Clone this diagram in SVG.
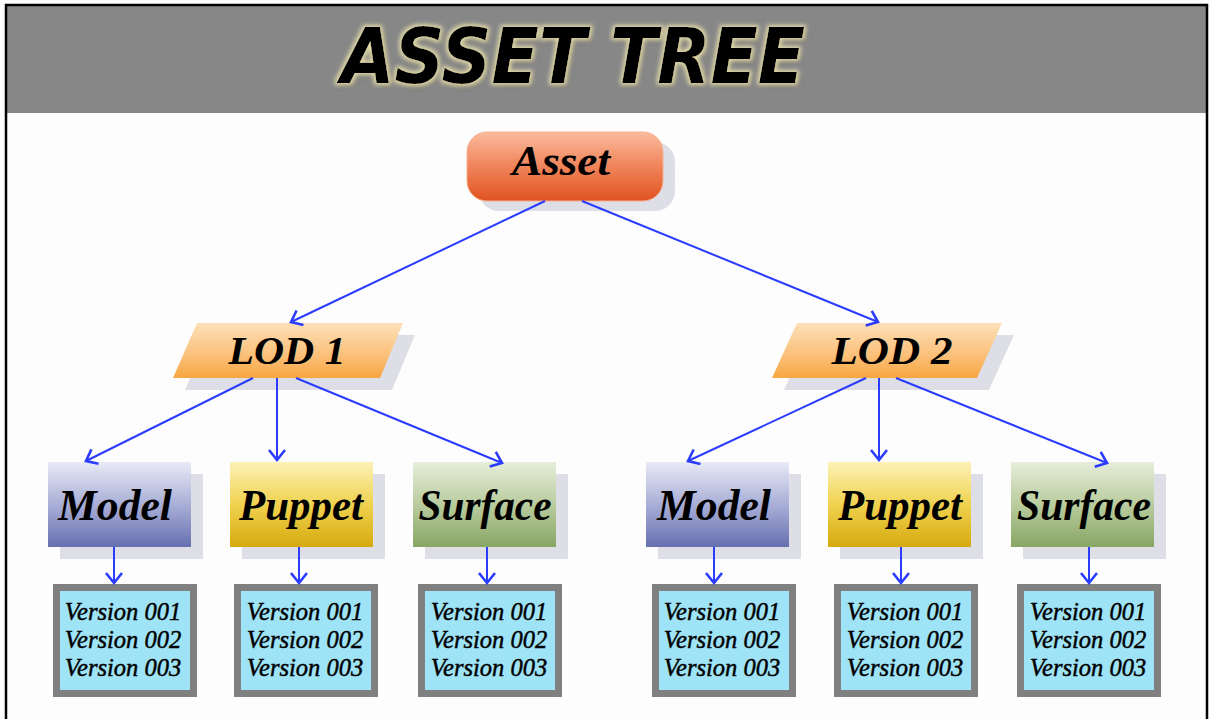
<svg xmlns="http://www.w3.org/2000/svg" width="1209" height="719" viewBox="0 0 1209 719">
<style>
.lbl{font-family:"Liberation Serif","Times New Roman",serif;font-style:italic;font-weight:bold;fill:#000;text-anchor:middle}
.ver{font-family:"Liberation Serif","Times New Roman",serif;font-style:italic;font-size:24.5px;fill:#000;stroke:#000;stroke-width:0.45;text-anchor:middle}
.shadow{fill:#dedfe6}
.vbox{fill:#9fe3f6;stroke:#808080;stroke-width:7}
.conn line{stroke:#2a3cff;stroke-width:2;fill:none;marker-end:url(#arr)}
</style>
<defs>
<marker id="arr" markerUnits="userSpaceOnUse" markerWidth="20" markerHeight="20" refX="12" refY="9" orient="auto">
<path d="M2,1 L12,9 L2,17" fill="none" stroke="#2a3cff" stroke-width="2.6"/>
</marker>
<linearGradient id="gAsset" x1="0" y1="0" x2="0" y2="1"><stop offset="0" stop-color="#fbbc9e"/><stop offset="0.5" stop-color="#f0845a"/><stop offset="1" stop-color="#df5320"/></linearGradient>
<linearGradient id="gLod" x1="0" y1="0" x2="0" y2="1"><stop offset="0" stop-color="#fde0b8"/><stop offset="0.6" stop-color="#fbbf78"/><stop offset="1" stop-color="#f7a640"/></linearGradient>
<linearGradient id="gModel" x1="0" y1="0" x2="0" y2="1"><stop offset="0" stop-color="#e8eaf5"/><stop offset="0.5" stop-color="#a9afd7"/><stop offset="1" stop-color="#6770b0"/></linearGradient>
<linearGradient id="gPuppet" x1="0" y1="0" x2="0" y2="1"><stop offset="0" stop-color="#fcf2b6"/><stop offset="0.5" stop-color="#f0d250"/><stop offset="1" stop-color="#d6aa0e"/></linearGradient>
<linearGradient id="gSurface" x1="0" y1="0" x2="0" y2="1"><stop offset="0" stop-color="#e6eedb"/><stop offset="0.5" stop-color="#b9cc9e"/><stop offset="1" stop-color="#88a664"/></linearGradient>
<filter id="glow" x="-10%" y="-40%" width="120%" height="180%">
<feMorphology in="SourceAlpha" operator="dilate" radius="1.5" result="d"/>
<feGaussianBlur in="d" stdDeviation="2" result="b"/>
<feFlood flood-color="#e0d8a8"/>
<feComposite in2="b" operator="in" result="g"/>
<feOffset in="SourceAlpha" dx="2" dy="3" result="o"/>
<feGaussianBlur in="o" stdDeviation="2.5" result="ob"/>
<feFlood flood-color="#3a3a30" flood-opacity="0.6"/>
<feComposite in2="ob" operator="in" result="sh"/>
<feMerge><feMergeNode in="sh"/><feMergeNode in="g"/><feMergeNode in="SourceGraphic"/></feMerge>
</filter>
</defs>
<rect x="0" y="0" width="1209" height="719" fill="#fdfdfd"/>
<g id="header">
<rect x="6" y="5" width="1201" height="108" fill="#878787"/>
<path d="M6,719 V5 H1207 V719" fill="none" stroke="#000" stroke-width="2.5"/>
<text x="573" y="83" font-family="DejaVu Sans Condensed, DejaVu Sans, sans-serif" font-stretch="condensed" font-weight="bold" font-style="italic" font-size="76" textLength="464" lengthAdjust="spacingAndGlyphs" text-anchor="middle" fill="#000" filter="url(#glow)">ASSET TREE</text>
</g>
<g id="asset">
<rect class="shadow" x="479" y="142" width="196" height="69" rx="20"/>
<rect x="467" y="132" width="196" height="69" rx="20" fill="url(#gAsset)" stroke="#f6b090" stroke-width="1"/>
<text class="lbl" x="561" y="175" font-size="43" textLength="98" lengthAdjust="spacingAndGlyphs">Asset</text>
</g>
<g id="lod1">
<polygon class="shadow" points="209,335 415,335 392,390 185,390"/>
<polygon points="197,323 403,323 380,378 173,378" fill="url(#gLod)"/>
<text class="lbl" x="287" y="364" font-size="39" font-weight="normal" textLength="117" lengthAdjust="spacingAndGlyphs">LOD 1</text>
</g>
<g id="lod2">
<polygon class="shadow" points="809,335 1014,335 989,390 784,390"/>
<polygon points="797,323 1002,323 977,378 772,378" fill="url(#gLod)"/>
<text class="lbl" x="892" y="364" font-size="39" font-weight="normal" textLength="121" lengthAdjust="spacingAndGlyphs">LOD 2</text>
</g>
<g id="model1">
<rect class="shadow" x="60" y="474" width="143" height="85"/>
<rect x="48" y="462" width="143" height="85" fill="url(#gModel)"/>
<text class="lbl" x="115" y="520" font-size="44" textLength="114" lengthAdjust="spacingAndGlyphs">Model</text>
</g>
<g id="puppet1">
<rect class="shadow" x="242" y="474" width="143" height="85"/>
<rect x="230" y="462" width="143" height="85" fill="url(#gPuppet)"/>
<text class="lbl" x="301" y="520" font-size="44" textLength="124" lengthAdjust="spacingAndGlyphs">Puppet</text>
</g>
<g id="surface1">
<rect class="shadow" x="425" y="474" width="143" height="85"/>
<rect x="413" y="462" width="143" height="85" fill="url(#gSurface)"/>
<text class="lbl" x="485" y="520" font-size="44" textLength="133" lengthAdjust="spacingAndGlyphs">Surface</text>
</g>
<g id="model2">
<rect class="shadow" x="658" y="474" width="143" height="85"/>
<rect x="646" y="462" width="143" height="85" fill="url(#gModel)"/>
<text class="lbl" x="714" y="520" font-size="44" textLength="114" lengthAdjust="spacingAndGlyphs">Model</text>
</g>
<g id="puppet2">
<rect class="shadow" x="840" y="474" width="143" height="85"/>
<rect x="828" y="462" width="143" height="85" fill="url(#gPuppet)"/>
<text class="lbl" x="900" y="520" font-size="44" textLength="124" lengthAdjust="spacingAndGlyphs">Puppet</text>
</g>
<g id="surface2">
<rect class="shadow" x="1023" y="474" width="143" height="85"/>
<rect x="1011" y="462" width="143" height="85" fill="url(#gSurface)"/>
<text class="lbl" x="1084" y="520" font-size="44" textLength="134" lengthAdjust="spacingAndGlyphs">Surface</text>
</g>
<g id="versions1">
<rect class="vbox" x="56.5" y="587.5" width="137" height="106"/>
<text class="ver" x="123" y="620">Version 001</text>
<text class="ver" x="123" y="648">Version 002</text>
<text class="ver" x="123" y="676">Version 003</text>
</g>
<g id="versions2">
<rect class="vbox" x="237.5" y="587.5" width="137" height="106"/>
<text class="ver" x="305" y="620">Version 001</text>
<text class="ver" x="305" y="648">Version 002</text>
<text class="ver" x="305" y="676">Version 003</text>
</g>
<g id="versions3">
<rect class="vbox" x="421.5" y="587.5" width="137" height="106"/>
<text class="ver" x="489" y="620">Version 001</text>
<text class="ver" x="489" y="648">Version 002</text>
<text class="ver" x="489" y="676">Version 003</text>
</g>
<g id="versions4">
<rect class="vbox" x="655.5" y="587.5" width="137" height="106"/>
<text class="ver" x="722" y="620">Version 001</text>
<text class="ver" x="722" y="648">Version 002</text>
<text class="ver" x="722" y="676">Version 003</text>
</g>
<g id="versions5">
<rect class="vbox" x="837.5" y="587.5" width="137" height="106"/>
<text class="ver" x="905" y="620">Version 001</text>
<text class="ver" x="905" y="648">Version 002</text>
<text class="ver" x="905" y="676">Version 003</text>
</g>
<g id="versions6">
<rect class="vbox" x="1020.5" y="587.5" width="137" height="106"/>
<text class="ver" x="1088" y="620">Version 001</text>
<text class="ver" x="1088" y="648">Version 002</text>
<text class="ver" x="1088" y="676">Version 003</text>
</g>
<g id="connectors" class="conn">
<line x1="545" y1="201" x2="291" y2="322"/>
<line x1="582" y1="201" x2="878" y2="322"/>
<line x1="253" y1="378" x2="86" y2="461"/>
<line x1="277" y1="378" x2="277" y2="460"/>
<line x1="296" y1="378" x2="502" y2="463"/>
<line x1="866" y1="378" x2="688" y2="461"/>
<line x1="879" y1="378" x2="879" y2="460"/>
<line x1="896" y1="378" x2="1107" y2="463"/>
<line x1="114" y1="547" x2="114" y2="583"/>
<line x1="299" y1="547" x2="299" y2="583"/>
<line x1="487" y1="547" x2="487" y2="583"/>
<line x1="714" y1="547" x2="714" y2="583"/>
<line x1="901" y1="547" x2="901" y2="583"/>
<line x1="1089" y1="547" x2="1089" y2="583"/>
</g>
</svg>
